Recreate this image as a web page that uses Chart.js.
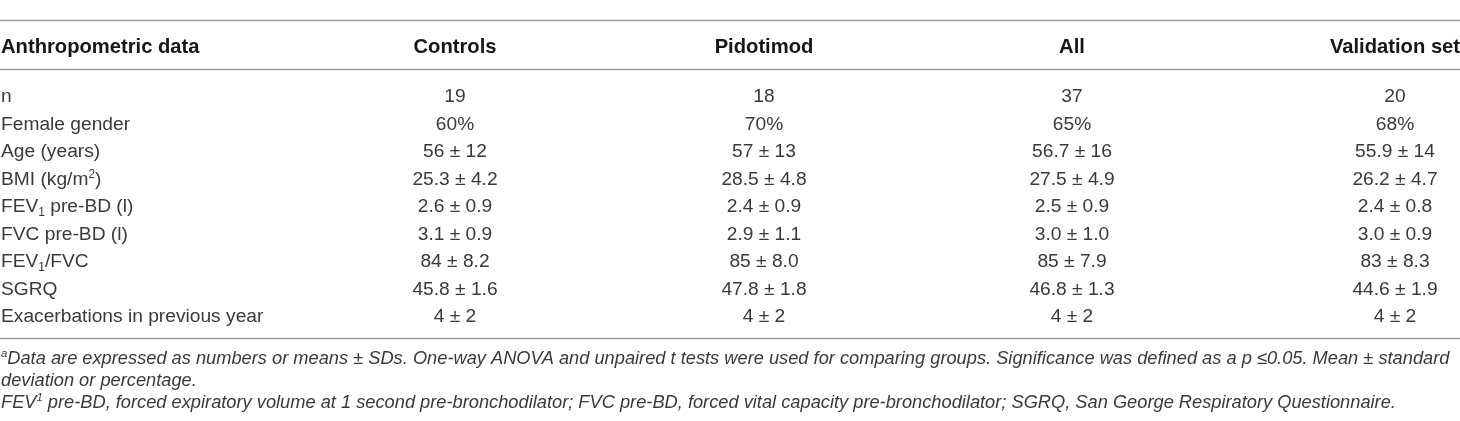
<!DOCTYPE html>
<html>
<head>
<meta charset="utf-8">
<title>Anthropometric data</title>
<script src="https://cdn.jsdelivr.net/npm/chart.js@4"></script>
<style>
  html, body { margin: 0; padding: 0; background: #fff; }
  #wrap { width: 1460px; height: 421px; }
</style>
</head>
<body>
<div id="wrap"><canvas id="chart" width="1460" height="421"></canvas></div>
<script>
// table content
// ^{..} is superscript, _{..} is subscript
const stubHeader = 'Anthropometric data';
const columns = ['Controls', 'Pidotimod', 'All', 'Validation set'];
const rowLabels = [
  'n',
  'Female gender',
  'Age (years)',
  'BMI (kg/m^{2})',
  'FEV_{1} pre-BD (l)',
  'FVC pre-BD (l)',
  'FEV_{1}/FVC',
  'SGRQ',
  'Exacerbations in previous year'
];
const controls   = ['19', '60%', '56 ± 12',   '25.3 ± 4.2', '2.6 ± 0.9', '3.1 ± 0.9', '84 ± 8.2', '45.8 ± 1.6', '4 ± 2'];
const pidotimod  = ['18', '70%', '57 ± 13',   '28.5 ± 4.8', '2.4 ± 0.9', '2.9 ± 1.1', '85 ± 8.0', '47.8 ± 1.8', '4 ± 2'];
const all        = ['37', '65%', '56.7 ± 16', '27.5 ± 4.9', '2.5 ± 0.9', '3.0 ± 1.0', '85 ± 7.9', '46.8 ± 1.3', '4 ± 2'];
const validation = ['20', '68%', '55.9 ± 14', '26.2 ± 4.7', '2.4 ± 0.8', '3.0 ± 0.9', '83 ± 8.3', '44.6 ± 1.9', '4 ± 2'];
const footnotes = [
  '^{a}Data are expressed as numbers or means ± SDs. One-way ANOVA and unpaired t tests were used for comparing groups. Significance was defined as a p ≤0.05. Mean ± standard',
  'deviation or percentage.',
  'FEV^{1} pre-BD, forced expiratory volume at 1 second pre-bronchodilator; FVC pre-BD, forced vital capacity pre-bronchodilator; SGRQ, San George Respiratory Questionnaire.'
];

// table geometry, in scale units (one unit = one pixel)
const geo = {
  colX: [1, 455, 764, 1072, 1395],
  rules: [20.5, 69.5, 338.5],
  headBase: 53,
  rowBase: 102,
  rowStep: 27.5,
  noteBase: [364, 386, 408]
};
const FAMILY = '"Liberation Sans", Arial, Helvetica, sans-serif';

// {{{ split a label into plain / sup / sub pieces
function pieces(s)
{
  let out = [];
  for (let p of s.split(/(\^\{[^}]*\}|_\{[^}]*\})/))
  {
    if (p === '') continue;
    if (p.startsWith('^{')) out.push({t: p.slice(2, -1), k: 'sup'});
    else if (p.startsWith('_{')) out.push({t: p.slice(2, -1), k: 'sub'});
    else out.push({t: p, k: ''});
  }
  return out;
}
// }}}

// {{{ draw one piece of rich text
function richText(ctx, s, x, y, f, align)
{
  let ps = pieces(s);
  let fontOf = (k) => (f.style || '') + ' ' + (f.weight || 400) + ' ' + (k ? f.size * 0.62 : f.size) + 'px ' + FAMILY;
  let w = 0;
  for (let p of ps)
  {
    ctx.font = fontOf(p.k);
    p.w = ctx.measureText(p.t).width;
    w += p.w;
  }
  let cx = (align == 'center') ? x - w / 2 : x;
  ctx.textAlign = 'left';
  ctx.textBaseline = 'alphabetic';
  ctx.fillStyle = f.color;
  for (let p of ps)
  {
    ctx.font = fontOf(p.k);
    let dy = (p.k == 'sup') ? -f.size * 0.36 : (p.k == 'sub') ? f.size * 0.2 : 0;
    ctx.fillText(p.t, cx, y + dy);
    cx += p.w;
  }
}
// }}}

const tablePlugin =
{
  id: 'table',
  afterDraw(chart)
  {
    const ctx = chart.ctx;
    const sx = chart.scales.x;
    const sy = chart.scales.y;
    const head = {size: 20.2, weight: 700, color: '#161616'};
    const body = {size: 19.2, weight: 400, color: '#3a3a3a'};
    const note = {size: 18.25, weight: 400, style: 'italic', color: '#3a3a3a'};
    ctx.save();
    // horizontal rules
    ctx.strokeStyle = '#9d9d9d';
    ctx.lineWidth = 1.5;
    for (let r of geo.rules)
    {
      ctx.beginPath();
      ctx.moveTo(sx.getPixelForValue(0), sy.getPixelForValue(r));
      ctx.lineTo(sx.getPixelForValue(1460), sy.getPixelForValue(r));
      ctx.stroke();
    }
    // header row
    richText(ctx, stubHeader, sx.getPixelForValue(geo.colX[0]), sy.getPixelForValue(geo.headBase), head, 'left');
    columns.forEach((c, i) =>
    {
      richText(ctx, c, sx.getPixelForValue(geo.colX[i + 1]), sy.getPixelForValue(geo.headBase), head, 'center');
    });
    // body rows
    const series = [controls, pidotimod, all, validation];
    rowLabels.forEach((lab, r) =>
    {
      let yb = sy.getPixelForValue(geo.rowBase + r * geo.rowStep);
      richText(ctx, lab, sx.getPixelForValue(geo.colX[0]), yb, body, 'left');
      series.forEach((vals, i) =>
      {
        richText(ctx, vals[r], sx.getPixelForValue(geo.colX[i + 1]), yb, body, 'center');
      });
    });
    // footnotes
    footnotes.forEach((t, i) =>
    {
      richText(ctx, t, sx.getPixelForValue(geo.colX[0]), sy.getPixelForValue(geo.noteBase[i]), note, 'left');
    });
    ctx.restore();
  }
};

new Chart(document.getElementById('chart'),
{
  type: 'scatter',
  data: {datasets: []},
  options:
  {
    responsive: false,
    animation: false,
    events: [],
    layout: {padding: 0},
    plugins: {legend: {display: false}, tooltip: {enabled: false}},
    scales:
    {
      x: {type: 'linear', min: 0, max: 1460, display: false},
      y: {type: 'linear', min: 0, max: 421, reverse: true, display: false}
    }
  },
  plugins: [tablePlugin]
});
</script>
</body>
</html>
